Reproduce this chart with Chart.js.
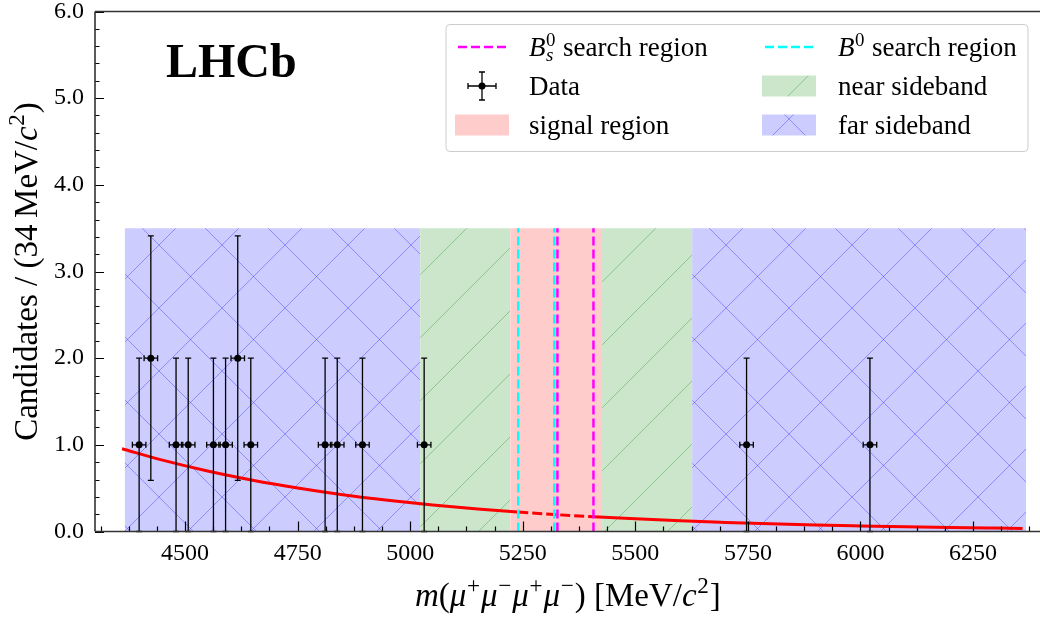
<!DOCTYPE html>
<html>
<head>
<meta charset="utf-8">
<script src="https://cdn.jsdelivr.net/npm/chart.js@4.4.0/dist/chart.umd.min.js"></script>
<style>
  html, body { margin: 0; padding: 0; background: #fff; overflow: hidden; }
  canvas { display: block; }
</style>
</head>
<body>
<canvas id="massPlot" width="1060" height="619"></canvas>
<script>
// four-muon candidates: mass, count and uncertainties
const candMass = [4398, 4424, 4480, 4507, 4563, 4590, 4617, 4646, 4811, 4838, 4894, 5031, 5747, 6021];
const candCount = [1, 2, 1, 1, 1, 1, 2, 1, 1, 1, 1, 1, 1, 1];
const candCountErr = [1, 1.41, 1, 1, 1, 1, 1.41, 1, 1, 1, 1, 1, 1, 1];
const candMassErr = [15, 15, 15, 15, 15, 15, 15, 15, 15, 15, 15, 15, 15, 15];

// background fit curve
const fitMass = [4360, 4450, 4550, 4650, 4750, 4850, 4950, 5050, 5150, 5240, 5320, 5407,
  5500, 5600, 5700, 5800, 5900, 6000, 6100, 6200, 6300, 6360];
const fitValue = [0.955, 0.823, 0.698, 0.592, 0.502, 0.425, 0.361, 0.306, 0.259, 0.224, 0.196, 0.170,
  0.146, 0.123, 0.105, 0.089, 0.075, 0.064, 0.054, 0.046, 0.039, 0.035];

// mass windows
const farLeft = [4366, 5022];
const nearLeft = [5022, 5222];
const signalWin = [5222, 5426];
const nearRight = [5426, 5626];
const farRight = [5626, 6368];
const bandTop = 3.5;
const b0Window = [5240, 5320];
const bsWindow = [5327, 5407];

const xTicks = [4500, 4750, 5000, 5250, 5500, 5750, 6000, 6250];
const yTicks = [0, 1, 2, 3, 4, 5, 6];

const SERIF = '"Liberation Serif", "DejaVu Serif", serif';
const serif = (size, italic, bold) => (italic ? 'italic ' : '') + (bold ? 'bold ' : '') + size + 'px ' + SERIF;

const MAGENTA = '#ff00ff';
const CYAN = '#00ffff';
const DASH = [9, 4];

function hatch(bg, line, cross, dx, dy) {
  const s = 63;
  const tile = document.createElement('canvas');
  tile.width = s; tile.height = s;
  const c = tile.getContext('2d');
  c.fillStyle = bg;
  c.fillRect(0, 0, s, s);
  c.strokeStyle = line;
  c.lineWidth = 1;
  c.beginPath();
  c.moveTo(-2, s + 2); c.lineTo(s + 2, -2);
  c.moveTo(-2, 2); c.lineTo(2, -2);
  c.moveTo(s - 2, s + 2); c.lineTo(s + 2, s - 2);
  if (cross) {
    c.moveTo(-2, -2); c.lineTo(s + 2, s + 2);
    c.moveTo(s - 2, -2); c.lineTo(s + 2, 2);
    c.moveTo(-2, s - 2); c.lineTo(2, s + 2);
  }
  c.stroke();
  const p = c.createPattern(tile, 'repeat');
  p.setTransform(new DOMMatrix().translate(dx, dy));
  return p;
}

const farFill = hatch('rgb(204,204,255)', 'rgba(20,20,255,0.35)', true, 33, -7);
const nearFill = hatch('rgb(204,230,204)', 'rgba(0,130,0,0.3)', false, 2, 0);
const signalFill = 'rgb(255,204,204)';

const xy = (xs, ys) => xs.map((x, i) => ({ x: x, y: ys[i] }));
const band = (w) => [{ x: w[0], y: bandTop }, { x: w[1], y: bandTop }];
const vline = (m) => [{ x: m, y: 0 }, { x: m, y: bandTop }];

function bandSet(w, fill) {
  return { data: band(w), showLine: true, fill: 'origin', backgroundColor: fill,
    borderWidth: 0, pointRadius: 0, order: 3 };
}
function lineSet(m, color) {
  return { data: vline(m), showLine: true, borderColor: color, borderWidth: 2.5,
    borderDash: DASH, pointRadius: 0, fill: false, order: 1 };
}

// rich text: {t, i} plain/italic runs, {sup, sub} small stacked scripts
function partWidth(ctx, p, size) {
  if (p.t !== undefined) { ctx.font = serif(size, p.i); return ctx.measureText(p.t).width; }
  const s = size * 0.7;
  let w = 0;
  if (p.sup !== undefined) { ctx.font = serif(s, false); w = Math.max(w, ctx.measureText(p.sup).width); }
  if (p.sub !== undefined) { ctx.font = serif(s, true); w = Math.max(w, ctx.measureText(p.sub).width); }
  return w + size * 0.05;
}
function drawRich(ctx, parts, x, y, size, align) {
  let total = 0;
  parts.forEach(p => { total += partWidth(ctx, p, size); });
  let cx = align === 'center' ? x - total / 2 : x;
  ctx.textAlign = 'left';
  ctx.textBaseline = 'alphabetic';
  ctx.fillStyle = '#000';
  for (const p of parts) {
    const w = partWidth(ctx, p, size);
    if (p.t !== undefined) {
      ctx.font = serif(size, p.i);
      ctx.fillText(p.t, cx, y);
    } else {
      const s = size * 0.7;
      if (p.sup !== undefined) { ctx.font = serif(s, false); ctx.fillText(p.sup, cx + size * 0.02, y - size * 0.38); }
      if (p.sub !== undefined) { ctx.font = serif(s, true); ctx.fillText(p.sub, cx + size * 0.02, y + size * 0.2); }
    }
    cx += w;
  }
}

function errorBar(ctx, px, py, x0, x1, y0, y1, cap) {
  ctx.beginPath();
  ctx.moveTo(px, y0); ctx.lineTo(px, y1);
  ctx.moveTo(x0, py); ctx.lineTo(x1, py);
  ctx.moveTo(px - cap, y0); ctx.lineTo(px + cap, y0);
  ctx.moveTo(px - cap, y1); ctx.lineTo(px + cap, y1);
  ctx.moveTo(x0, py - cap); ctx.lineTo(x0, py + cap);
  ctx.moveTo(x1, py - cap); ctx.lineTo(x1, py + cap);
  ctx.stroke();
}

const decor = {
  id: 'decor',
  beforeDatasetDraw(chart, args) {
    const ds = chart.data.datasets[args.index];
    if (!ds.errY) return;
    const ctx = chart.ctx, xs = chart.scales.x, ys = chart.scales.y;
    ctx.save();
    ctx.strokeStyle = '#000';
    ctx.lineWidth = 1.3;
    ds.data.forEach((p, i) => {
      const px = xs.getPixelForValue(p.x), py = ys.getPixelForValue(p.y);
      const lo = Math.max(0, p.y - ds.errY[i]), hi = p.y + ds.errY[i];
      errorBar(ctx, px, py,
        xs.getPixelForValue(p.x - ds.errX[i]), xs.getPixelForValue(p.x + ds.errX[i]),
        ys.getPixelForValue(lo), ys.getPixelForValue(hi), 3);
    });
    ctx.restore();
  },
  afterDraw(chart) {
    const ctx = chart.ctx, a = chart.chartArea, xs = chart.scales.x, ys = chart.scales.y;
    ctx.save();

    // inward ticks
    ctx.strokeStyle = '#000';
    ctx.lineWidth = 1.2;
    ctx.beginPath();
    for (let k = -3; ; k++) {
      const v = 4500 + k * 62.5;
      if (v > xs.max) break;
      const px = Math.round(xs.getPixelForValue(v)) + 0.5;
      const len = k % 4 === 0 ? 10 : 5;
      ctx.moveTo(px, a.bottom); ctx.lineTo(px, a.bottom - len);
    }
    for (let k = 0; k <= 30; k++) {
      const py = Math.round(ys.getPixelForValue(k * 0.2)) + 0.5;
      const len = k % 5 === 0 ? 9 : 4.5;
      ctx.moveTo(a.left, py); ctx.lineTo(a.left + len, py);
    }
    ctx.stroke();

    // frame
    ctx.strokeStyle = '#333';
    ctx.lineWidth = 1.6;
    ctx.beginPath();
    ctx.moveTo(a.left, a.top); ctx.lineTo(a.right, a.top);
    ctx.moveTo(a.left, a.top); ctx.lineTo(a.left, a.bottom);
    ctx.moveTo(a.left, a.bottom); ctx.lineTo(a.right, a.bottom);
    ctx.stroke();

    // axis titles
    const mu = { t: '\u03bc', i: true };
    drawRich(ctx, [
      { t: 'm', i: true }, { t: '(' }, mu, { sup: '+' }, mu, { sup: '\u2212' }, mu, { sup: '+' }, mu, { sup: '\u2212' },
      { t: ') [MeV/' }, { t: 'c', i: true }, { sup: '2' }, { t: ']' }
    ], (a.left + a.right) / 2, 606, 33, 'center');

    ctx.save();
    ctx.translate(37, (a.top + a.bottom) / 2);
    ctx.rotate(-Math.PI / 2);
    drawRich(ctx, [{ t: 'Candidates / (34\u2009MeV/' }, { t: 'c', i: true }, { sup: '2' }, { t: ')' }], 0, 0, 33, 'center');
    ctx.restore();

    // experiment label
    ctx.font = serif(48, false, true);
    ctx.fillStyle = '#000';
    ctx.textAlign = 'left';
    ctx.textBaseline = 'alphabetic';
    ctx.fillText('LHCb', 166, 77);

    // legend
    const bx = 446, by = 24.5, bw = 582, bh = 127;
    ctx.beginPath();
    ctx.roundRect(bx, by, bw, bh, 4);
    ctx.fillStyle = 'rgba(255,255,255,0.8)';
    ctx.fill();
    ctx.strokeStyle = '#cccccc';
    ctx.lineWidth = 1;
    ctx.stroke();

    const rows = [47, 86, 125];
    const cols = [{ h0: 455, h1: 509, tx: 529 }, { h0: 762, h1: 816, tx: 838 }];
    const fs = 27;

    const dashHandle = (col, row, color) => {
      ctx.save();
      ctx.strokeStyle = color;
      ctx.lineWidth = 2.6;
      ctx.setLineDash(DASH);
      ctx.beginPath();
      ctx.moveTo(col.h0 + 3, row); ctx.lineTo(col.h1 - 2, row);
      ctx.stroke();
      ctx.restore();
    };
    const patchHandle = (col, row, fill) => {
      ctx.fillStyle = fill;
      ctx.fillRect(col.h0, row - 10.5, col.h1 - col.h0, 21);
    };

    dashHandle(cols[0], rows[0], MAGENTA);
    drawRich(ctx, [{ t: 'B', i: true }, { sub: 's', sup: '0' }, { t: ' search region' }], cols[0].tx, rows[0] + 9, fs);
    dashHandle(cols[1], rows[0], CYAN);
    drawRich(ctx, [{ t: 'B', i: true }, { sup: '0' }, { t: ' search region' }], cols[1].tx, rows[0] + 9, fs);

    const cx = (cols[0].h0 + cols[0].h1) / 2;
    ctx.strokeStyle = '#000';
    ctx.lineWidth = 1.3;
    errorBar(ctx, cx, rows[1], cx - 14, cx + 14, rows[1] - 14, rows[1] + 14, 3);
    ctx.fillStyle = '#000';
    ctx.beginPath();
    ctx.arc(cx, rows[1], 3.5, 0, Math.PI * 2);
    ctx.fill();
    drawRich(ctx, [{ t: 'Data' }], cols[0].tx, rows[1] + 9, fs);

    patchHandle(cols[1], rows[1], nearFill);
    drawRich(ctx, [{ t: 'near sideband' }], cols[1].tx, rows[1] + 9, fs);

    patchHandle(cols[0], rows[2], signalFill);
    drawRich(ctx, [{ t: 'signal region' }], cols[0].tx, rows[2] + 9, fs);

    patchHandle(cols[1], rows[2], farFill);
    drawRich(ctx, [{ t: 'far sideband' }], cols[1].tx, rows[2] + 9, fs);

    ctx.restore();
  }
};

Chart.defaults.font.family = SERIF;
Chart.defaults.color = '#000';

new Chart(document.getElementById('massPlot').getContext('2d'), {
  type: 'scatter',
  data: {
    datasets: [
      {
        data: xy(candMass, candCount), errX: candMassErr, errY: candCountErr,
        showLine: false, pointRadius: 3.5, pointBackgroundColor: '#000', pointBorderWidth: 0, order: 0
      },
      lineSet(bsWindow[0], MAGENTA),
      lineSet(bsWindow[1], MAGENTA),
      lineSet(b0Window[0], CYAN),
      lineSet(b0Window[1], CYAN),
      {
        data: xy(fitMass, fitValue), showLine: true, borderColor: '#ff0000', borderWidth: 3,
        pointRadius: 0, fill: false, cubicInterpolationMode: 'monotone', order: 2,
        segment: {
          borderDash: c => (c.p0.parsed.x >= b0Window[0] && c.p1.parsed.x <= bsWindow[1]) ? [10, 4] : undefined
        }
      },
      bandSet(farLeft, farFill),
      bandSet(nearLeft, nearFill),
      bandSet(signalWin, signalFill),
      bandSet(nearRight, nearFill),
      bandSet(farRight, farFill)
    ]
  },
  options: {
    responsive: false,
    devicePixelRatio: 1,
    animation: false,
    events: [],
    layout: { padding: { left: 0, right: 19.4, top: 11.5, bottom: 0 } },
    plugins: { legend: { display: false }, tooltip: { enabled: false } },
    scales: {
      x: {
        type: 'linear', min: 4300, max: 6400,
        afterBuildTicks: s => { s.ticks = xTicks.map(v => ({ value: v })); },
        afterFit: s => { s.height = 87.5; s.paddingLeft = 0; s.paddingRight = 0; },
        ticks: { font: { family: SERIF, size: 24 }, color: '#000', padding: 8, maxRotation: 0, autoSkip: false,
          callback: v => String(v) },
        grid: { display: false, drawTicks: false },
        border: { display: false }
      },
      y: {
        min: 0, max: 6,
        afterBuildTicks: s => { s.ticks = yTicks.map(v => ({ value: v })); },
        afterFit: s => { s.width = 95; s.paddingTop = 0; s.paddingBottom = 0; },
        ticks: { font: { family: SERIF, size: 24 }, color: '#000', padding: 11,
          callback: v => Number(v).toFixed(1) },
        grid: { display: false, drawTicks: false },
        border: { display: false }
      }
    }
  },
  plugins: [decor]
});
</script>
</body>
</html>
